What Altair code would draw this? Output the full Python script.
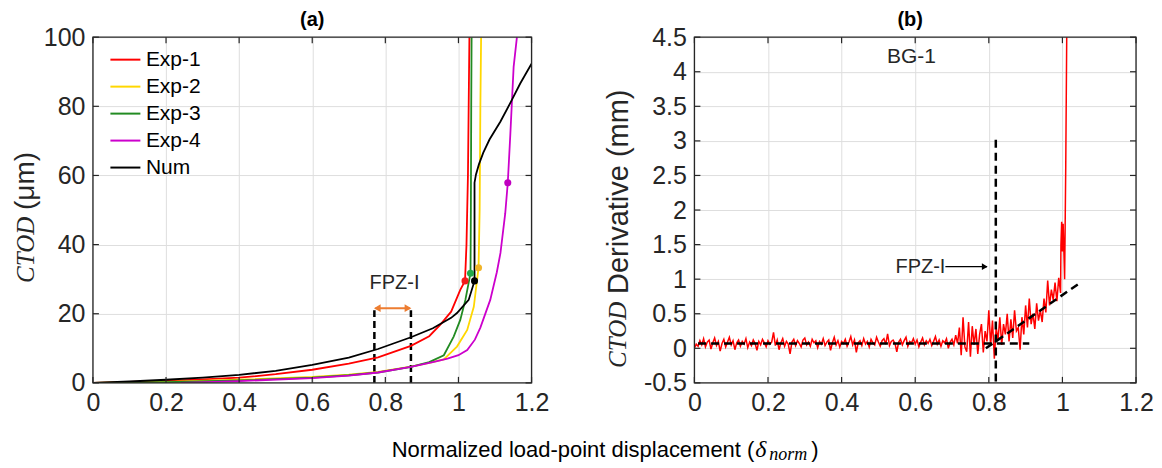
import altair as alt
import pandas as pd

FONT = "Liberation Sans"
SERIF = "Liberation Serif"
AX = "#262626"
GRID = "#DEDEDE"
W1, W2, H = 439, 442, 346

# ---------------- panel (a) data ----------------
series_names = ["Exp-1", "Exp-2", "Exp-3", "Exp-4", "Num"]
line_colors = ["#FF0000", "#FFD700", "#228B22", "#CC00CC", "#000000"]
dot_colors = ["#F21B1B", "#F0B428", "#22A84A", "#C000C0", "#000000"]

exp1_x = [0, 0.1, 0.2, 0.3, 0.4, 0.5, 0.6, 0.7, 0.78, 0.87, 0.92, 0.95, 0.98, 1.005, 1.018, 1.022, 1.026, 1.028, 1.03]
exp1_y = [0, 0.3, 0.6, 1.0, 1.5, 2.5, 3.8, 5.6, 7.4, 10.7, 13.5, 16.8, 20.6, 26.9, 29.5, 40, 60, 80, 100]
exp2_x = [0, 0.2, 0.4, 0.6, 0.7, 0.78, 0.87, 0.92, 0.96, 0.996, 1.024, 1.042, 1.055, 1.058, 1.06, 1.062]
exp2_y = [0, 0.3, 0.9, 1.7, 2.4, 3.2, 4.7, 5.8, 6.8, 10.5, 15.3, 22, 33.3, 50, 80, 100]
exp3_x = [0, 0.2, 0.4, 0.6, 0.7, 0.78, 0.87, 0.92, 0.96, 0.987, 1.005, 1.019, 1.033, 1.034, 1.035, 1.036]
exp3_y = [0, 0.2, 0.7, 1.5, 2.2, 3.0, 4.6, 6.0, 8.0, 13.4, 18.2, 24, 31.7, 50, 80, 100]
exp4_x = [0.24, 0.4, 0.6, 0.7, 0.78, 0.87, 0.93, 0.97, 1.0, 1.024, 1.045, 1.06, 1.087, 1.105, 1.115, 1.128, 1.135, 1.142, 1.151, 1.16]
exp4_y = [0, 0.5, 1.4, 2.1, 3.0, 4.6, 6.0, 7.0, 8.0, 9.5, 12.5, 16, 24, 32, 37.6, 49, 57.9, 72, 91.4, 100]
num_x = [0, 0.1, 0.2, 0.3, 0.4, 0.5, 0.6, 0.7, 0.78, 0.87, 0.93, 0.98, 0.996, 1.028, 1.044, 1.044, 1.048,
         1.056, 1.068, 1.085, 1.115, 1.142, 1.169, 1.2]
num_y = [0, 0.4, 0.9, 1.5, 2.3, 3.5, 5.2, 7.3, 9.8, 13.2, 15.8, 18.8, 20.2, 24.0, 29.5, 57.9, 60.3,
         63.2, 66.6, 70.4, 75.6, 81.0, 86.6, 92.3]

dot_series = ["Exp-1", "Exp-2", "Exp-3", "Exp-4", "Num"]
dot_x = [1.018, 1.055, 1.033, 1.135, 1.044]
dot_y = [29.5, 33.3, 31.7, 57.9, 29.5]

fpz_a_x = [0.77, 0.87]
fpz_a_top = 21.0
fpz_a_arrow_y = 21.6
fpz_a_label = ("FPZ-I", 0.825, 29.0)

xt1 = [0, 0.2, 0.4, 0.6, 0.8, 1, 1.2]
yt1 = [0, 20, 40, 60, 80, 100]

# ---------------- panel (b) data ----------------
deriv_a = [
    0.00, 0.06, 0.03, 0.11, 0.05, 0.14, 0.02, 0.09, 0.12, -0.01,
    0.08, 0.15, 0.04, 0.10, -0.04, 0.07, 0.13, 0.02, 0.09, 0.16,
    0.05, 0.11, -0.02, 0.08, 0.12, 0.03, 0.10, 0.06, 0.14, 0.01,
    0.09, 0.04, 0.12, 0.07, -0.03, 0.10, 0.05, 0.13, 0.08, 0.02,
    0.11, 0.06, 0.09, 0.23, 0.04, 0.12, -0.02, 0.08, 0.14, 0.03,
    0.10, 0.06, -0.08, 0.09, 0.13, 0.04, 0.11, 0.07, 0.02, 0.12,
    0.15, 0.05, 0.09, 0.03, 0.13, 0.08, 0.11, 0.01, 0.10, 0.06,
    0.14, 0.04, 0.09, 0.12, -0.03, 0.08, 0.16, 0.05, 0.11, 0.02,
    0.10, 0.07, 0.13, 0.03, 0.09, 0.17, 0.05, 0.12, -0.06, 0.08,
    0.11, 0.04, 0.14, 0.06, 0.10, 0.02, 0.13, 0.08, 0.05, 0.16,
    0.09, 0.03, 0.11, 0.14, 0.06, 0.21, 0.04, 0.10, 0.12, 0.07,
    -0.05, 0.09, 0.13, 0.05, 0.11, 0.16, 0.03, 0.10, 0.08, 0.14,
    0.06, 0.12, 0.02, 0.09, 0.15, 0.05, 0.11, 0.07, 0.13, 0.04,
    0.10, 0.17, 0.06, 0.12, 0.03, 0.11, 0.08, 0.14, 0.00, 0.09,
    0.13, 0.05, 0.19, 0.07,
]
deriv_b = [0.30, -0.10, 0.45, 0.02, -0.05, 0.38, -0.12, 0.32, 0.05, 0.28, -0.08, 0.20, 0.35, -0.06, 0.25, 0.10]
deriv_c = [
    0.55, 0.05, 0.40, -0.15, 0.30, 0.12, 0.45, 0.05, 0.35, 0.20,
    0.50, 0.10, 0.42, 0.15, 0.55, 0.25, 0.30, -0.02, 0.45, 0.20,
    0.62, 0.30, 0.72, 0.35, 0.50, 0.28, 0.65, 0.40, 0.55, 0.38,
    0.72, 0.52, 0.98, 0.62, 0.85, 0.70, 0.95, 0.68, 1.02, 0.80,
]
deriv_main = deriv_a + deriv_b + deriv_c
deriv_tail_x = [0.996, 0.998, 1.0, 1.002, 1.006, 1.009, 1.012]
deriv_tail_y = [1.50, 1.83, 1.40, 1.80, 1.00, 2.60, 4.70]

fit_flat_x = [0.01, 0.91]
fit_flat_y = [0.07, 0.07]
fit_slope_x = [0.792, 1.046]
fit_slope_y = [0.0, 0.94]
fpz_b_x = 0.819
fpz_b_y = [-0.48, 3.06]
fpz_b_arrow_x = [0.682, 0.795]
fpz_b_arrow_y = 1.18

xt2 = [0, 0.2, 0.4, 0.6, 0.8, 1, 1.2]
yt2 = [-0.5, 0, 0.5, 1, 1.5, 2, 2.5, 3, 3.5, 4, 4.5]

# ---------------- helpers ----------------
def axis(values):
    return alt.Axis(values=values, grid=True, gridColor=GRID, gridWidth=1, domain=False, ticks=False,
                    labelFont=FONT, labelFontSize=25, labelColor=AX, labelPadding=8,
                    labelFlush=False, labelOverlap=False, labelExpr="'' + datum.value", title=None)

XS1 = alt.Scale(domain=[0, 1.2], nice=False, zero=False)
YS1 = alt.Scale(domain=[0, 100], nice=False, zero=False)
XS2 = alt.Scale(domain=[0, 1.2], nice=False, zero=False)
YS2 = alt.Scale(domain=[-0.5, 4.5], nice=False, zero=False)


def X(xs, xt):
    return alt.X("x:Q", scale=xs, axis=axis(xt))


def Y(ys, yt):
    return alt.Y("y:Q", scale=ys, axis=axis(yt))


def frame_layers(xs, ys, xt, yt, W, L=6):
    dx = pd.DataFrame({"x": xt})
    dy = pd.DataFrame({"y": yt})
    one = pd.DataFrame({"k": [0]})
    st = dict(color=AX, strokeWidth=1.2)
    return [
        alt.Chart(dx).mark_rule(**st).encode(x=X(xs, xt), y=alt.value(0), y2=alt.value(L)),
        alt.Chart(dx).mark_rule(**st).encode(x=X(xs, xt), y=alt.value(H), y2=alt.value(H - L)),
        alt.Chart(dy).mark_rule(**st).encode(y=Y(ys, yt), x=alt.value(0), x2=alt.value(L)),
        alt.Chart(dy).mark_rule(**st).encode(y=Y(ys, yt), x=alt.value(W), x2=alt.value(W - L)),
        alt.Chart(one).mark_rect(fill="transparent", stroke=AX, strokeWidth=1.3).encode(
            x=alt.value(0), x2=alt.value(W), y=alt.value(0), y2=alt.value(H)),
    ]


def label(text, x, y, **kw):
    return alt.Chart(pd.DataFrame({"t": [text]})).mark_text(**kw).encode(
        x=alt.value(x), y=alt.value(y), text="t:N")


# ---------------- panel (a) ----------------
rows = []
for name, xs_, ys_ in [("Exp-1", exp1_x, exp1_y), ("Exp-2", exp2_x, exp2_y), ("Exp-3", exp3_x, exp3_y),
                       ("Exp-4", exp4_x, exp4_y), ("Num", num_x, num_y)]:
    for i, (a, b) in enumerate(zip(xs_, ys_)):
        rows.append({"series": name, "x": a, "y": b, "idx": i})
df_a = pd.DataFrame(rows)
df_dots = pd.DataFrame({"series": dot_series, "x": dot_x, "y": dot_y})

lines_a = alt.Chart(df_a).mark_line(strokeWidth=1.8, clip=True).encode(
    x=X(XS1, xt1), y=Y(YS1, yt1),
    color=alt.Color("series:N", scale=alt.Scale(domain=series_names, range=line_colors),
                    legend=alt.Legend(orient="none", legendX=22, legendY=12, title=None,
                                      labelFont=FONT, labelFontSize=21, labelColor="#000000",
                                      symbolType="M-2,0H2", symbolSize=225, symbolStrokeWidth=2,
                                      rowPadding=5, labelOffset=10, padding=0)),
    order=alt.Order("idx:Q"),
)
dots_a = alt.Chart(df_dots).mark_circle(size=50, opacity=1).encode(
    x=X(XS1, xt1), y=Y(YS1, yt1),
    fill=alt.Fill("series:N", scale=alt.Scale(domain=series_names, range=dot_colors), legend=None),
)
df_fpz_a = pd.DataFrame({"x": [fpz_a_x[0], fpz_a_x[0], fpz_a_x[1], fpz_a_x[1]],
                         "y": [0, fpz_a_top, 0, fpz_a_top], "g": ["a", "a", "b", "b"]})
dash_a = alt.Chart(df_fpz_a).mark_line(color="#000000", strokeWidth=2.5, strokeDash=[7, 4]).encode(
    x=X(XS1, xt1), y=Y(YS1, yt1), detail="g:N")
df_arr_a = pd.DataFrame({"x": [fpz_a_x[0] + 0.003, fpz_a_x[1] - 0.003], "y": [fpz_a_arrow_y] * 2})
arr_a_line = alt.Chart(df_arr_a).mark_line(color="#ED7D31", strokeWidth=2).encode(x=X(XS1, xt1), y=Y(YS1, yt1))
df_heads = pd.DataFrame({"x": [fpz_a_x[0] + 0.008, fpz_a_x[1] - 0.008], "y": [fpz_a_arrow_y] * 2,
                         "s": ["triangle-left", "triangle-right"]})
arr_a_heads = alt.Chart(df_heads).mark_point(filled=True, size=60, color="#ED7D31", opacity=1).encode(
    x=X(XS1, xt1), y=Y(YS1, yt1),
    shape=alt.Shape("s:N", scale=alt.Scale(domain=["triangle-left", "triangle-right"],
                                           range=["triangle-left", "triangle-right"]), legend=None))
txt_a = alt.Chart(pd.DataFrame({"t": [fpz_a_label[0]], "x": [fpz_a_label[1]], "y": [fpz_a_label[2]]})).mark_text(
    font=FONT, fontSize=20, color=AX).encode(x=X(XS1, xt1), y=Y(YS1, yt1), text="t:N")

panel_a = alt.layer(
    dash_a, lines_a, dots_a, arr_a_line, arr_a_heads, txt_a,
    *frame_layers(XS1, YS1, xt1, yt1, W1),
    label("(a)", W1 / 2, -17, font=FONT, fontSize=20, fontWeight="bold", color="#000000", baseline="middle"),
    label("CTOD", -67, 246, font=SERIF, fontStyle="italic", fontSize=25, color=AX, angle=270, align="left", baseline="middle"),
    label("(μm)", -67, 173, font=FONT, fontSize=28, color=AX, angle=270, align="left", baseline="middle"),
).properties(width=W1, height=H)

# ---------------- panel (b) ----------------
deriv_x = [round(i * 0.005, 3) for i in range(len(deriv_main))] + deriv_tail_x
deriv_y = deriv_main + deriv_tail_y
df_b = pd.DataFrame({"x": deriv_x, "y": deriv_y, "idx": list(range(len(deriv_x)))})
line_b = alt.Chart(df_b).mark_line(color="#FF0000", strokeWidth=1.5, clip=True).encode(
    x=X(XS2, xt2), y=Y(YS2, yt2), order=alt.Order("idx:Q"))
df_fit = pd.DataFrame({"x": fit_flat_x + fit_slope_x + [fpz_b_x, fpz_b_x],
                       "y": fit_flat_y + fit_slope_y + fpz_b_y,
                       "g": ["f", "f", "s", "s", "v", "v"]})
fit_b = alt.Chart(df_fit).mark_line(color="#000000", strokeWidth=2.5, strokeDash=[8, 5]).encode(
    x=X(XS2, xt2), y=Y(YS2, yt2), detail="g:N")
df_arr_b = pd.DataFrame({"x": fpz_b_arrow_x, "y": [fpz_b_arrow_y] * 2})
arr_b = alt.Chart(df_arr_b).mark_line(color="#000000", strokeWidth=1.2).encode(x=X(XS2, xt2), y=Y(YS2, yt2))
head_b = alt.Chart(pd.DataFrame({"x": [fpz_b_arrow_x[1] - 0.006], "y": [fpz_b_arrow_y]})).mark_point(
    shape="triangle-right", filled=True, size=45, color="#000000", opacity=1).encode(x=X(XS2, xt2), y=Y(YS2, yt2))

panel_b = alt.layer(
    line_b, fit_b, arr_b, head_b,
    alt.Chart(pd.DataFrame({"t": ["FPZ-I"], "x": [fpz_b_arrow_x[0]], "y": [fpz_b_arrow_y]})).mark_text(
        font=FONT, fontSize=20, color=AX, align="right").encode(x=X(XS2, xt2), y=Y(YS2, yt2), text="t:N"),
    alt.Chart(pd.DataFrame({"t": ["BG-1"], "x": [0.59], "y": [4.22]})).mark_text(
        font=FONT, fontSize=21, color=AX).encode(x=X(XS2, xt2), y=Y(YS2, yt2), text="t:N"),
    *frame_layers(XS2, YS2, xt2, yt2, W2),
    label("(b)", 216, -17, font=FONT, fontSize=20, fontWeight="bold", color="#000000", baseline="middle"),
    label("CTOD", -76, 331, font=SERIF, fontStyle="italic", fontSize=25, color=AX, angle=270, align="left", baseline="middle"),
    label("Derivative (mm)", -75, 257, font=FONT, fontSize=29, color=AX, angle=270, align="left", baseline="middle"),
).properties(width=W2, height=H)

# ---------------- shared x title ----------------
OX = 92
bottom = alt.layer(
    label("Normalized load-point displacement (", 754 - OX, 11, font=FONT, fontSize=22, color="#000000", align="right", baseline="middle"),
    label("δ", 755 - OX, 11, font=SERIF, fontStyle="italic", fontSize=24, color="#000000", align="left", baseline="middle"),
    label("norm", 769 - OX, 16, font=SERIF, fontStyle="italic", fontSize=18, color="#000000", align="left", baseline="middle"),
    label(")", 811 - OX, 11, font=FONT, fontSize=22, color="#000000", align="left", baseline="middle"),
).properties(width=900, height=20)

chart = alt.vconcat(
    alt.hconcat(panel_a, panel_b, spacing=55),
    bottom,
    spacing=20,
).properties(padding={"left": 3, "top": 1, "right": 0, "bottom": 0}).configure_view(stroke="transparent")

chart.save("out.html", embed_options={"renderer": "svg", "actions": False})
